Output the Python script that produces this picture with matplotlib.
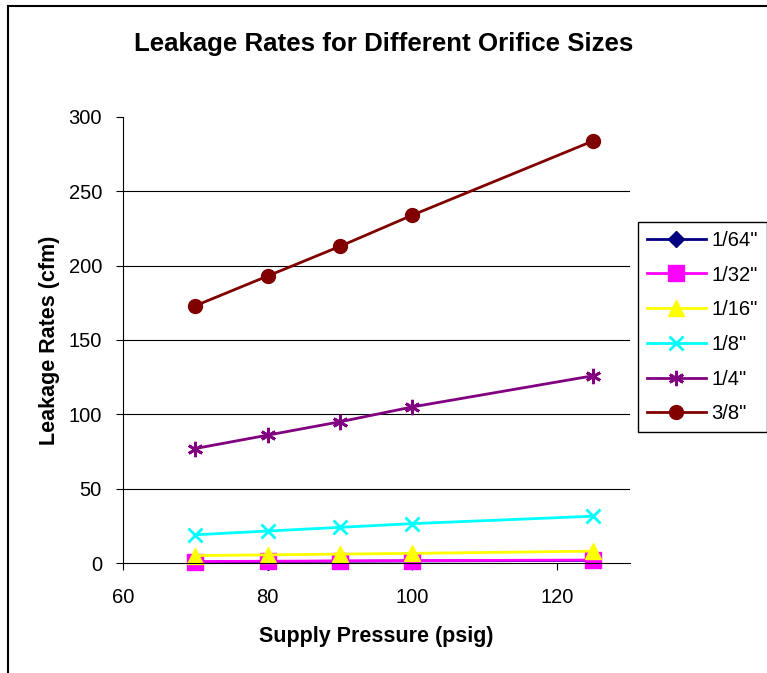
import matplotlib.pyplot as plt
from matplotlib.lines import Line2D

plt.rcParams['font.family'] = ['Liberation Sans', 'DejaVu Sans']

pressure = [70, 80, 90, 100, 125]
sizes = ['1/64"', '1/32"', '1/16"', '1/8"', '1/4"', '3/8"']
leak_1_64 = [0.8, 1.0, 1.2, 1.4, 1.8]
leak_1_32 = [1.0, 1.2, 1.4, 1.6, 2.0]
leak_1_16 = [5.0, 5.5, 6.0, 6.5, 8.0]
leak_1_8 = [19.0, 21.5, 24.0, 26.5, 31.5]
leak_1_4 = [77, 86, 95, 105, 126]
leak_3_8 = [173, 193, 213, 234, 284]

series = [leak_1_64, leak_1_32, leak_1_16, leak_1_8, leak_1_4, leak_3_8]
colors = ['#000080', '#FF00FF', '#FFFF00', '#00FFFF', '#800080', '#800000']
markers = ['D', 's', '^', 'x', (6, 2, 0), 'o']
msizes = [8, 11, 11, 10, 11, 10]

fig = plt.figure(figsize=(7.67, 6.73), dpi=100)
ax = fig.add_axes([0.160, 0.1634, 0.661, 0.6628])

# outer chart frame (left/top edges visible)
fig.add_artist(Line2D([0.0105, 0.0105], [0, 0.991], color='black', lw=1.5, transform=fig.transFigure))
fig.add_artist(Line2D([0.0105, 1.0], [0.991, 0.991], color='black', lw=1.5, transform=fig.transFigure))

for g in [50, 100, 150, 200, 250]:
    ax.axhline(g, color='black', lw=0.8, zorder=0)

for vals, lab, c, m, ms in zip(series, sizes, colors, markers, msizes):
    mew = 2 if m in ('x', (6, 2, 0)) else 1
    ax.plot(pressure, vals, color=c, marker=m, ms=ms, mew=mew, lw=2,
            label=lab, clip_on=False)

ax.set_xlim(60, 130)
ax.set_ylim(0, 300)
ax.set_xticks([60, 80, 100, 120])
ax.set_yticks([0, 50, 100, 150, 200, 250, 300])
ax.spines['top'].set_visible(False)
ax.spines['right'].set_visible(False)
ax.tick_params(direction='out', length=5, labelsize=14.5)
ax.tick_params(axis='x', pad=13)
ax.tick_params(axis='y', pad=10)

ax.set_xlabel('Supply Pressure (psig)', fontsize=15.5, fontweight='bold', labelpad=14)
ax.set_ylabel('Leakage Rates (cfm)', fontsize=15.5, fontweight='bold', labelpad=6)
fig.text(0.5, 0.935, 'Leakage Rates for Different Orifice Sizes', ha='center', va='center',
         fontsize=18.6, fontweight='bold')

leg = fig.legend(loc='center left', bbox_to_anchor=(0.832, 0.514), fontsize=14.5,
                 frameon=True, fancybox=False, edgecolor='black', framealpha=1,
                 handlelength=2.9, labelspacing=0.78, borderpad=0.45, handletextpad=0.3,
                 borderaxespad=0)
leg.get_frame().set_linewidth(1)

fig.savefig('out.png', dpi=100)
